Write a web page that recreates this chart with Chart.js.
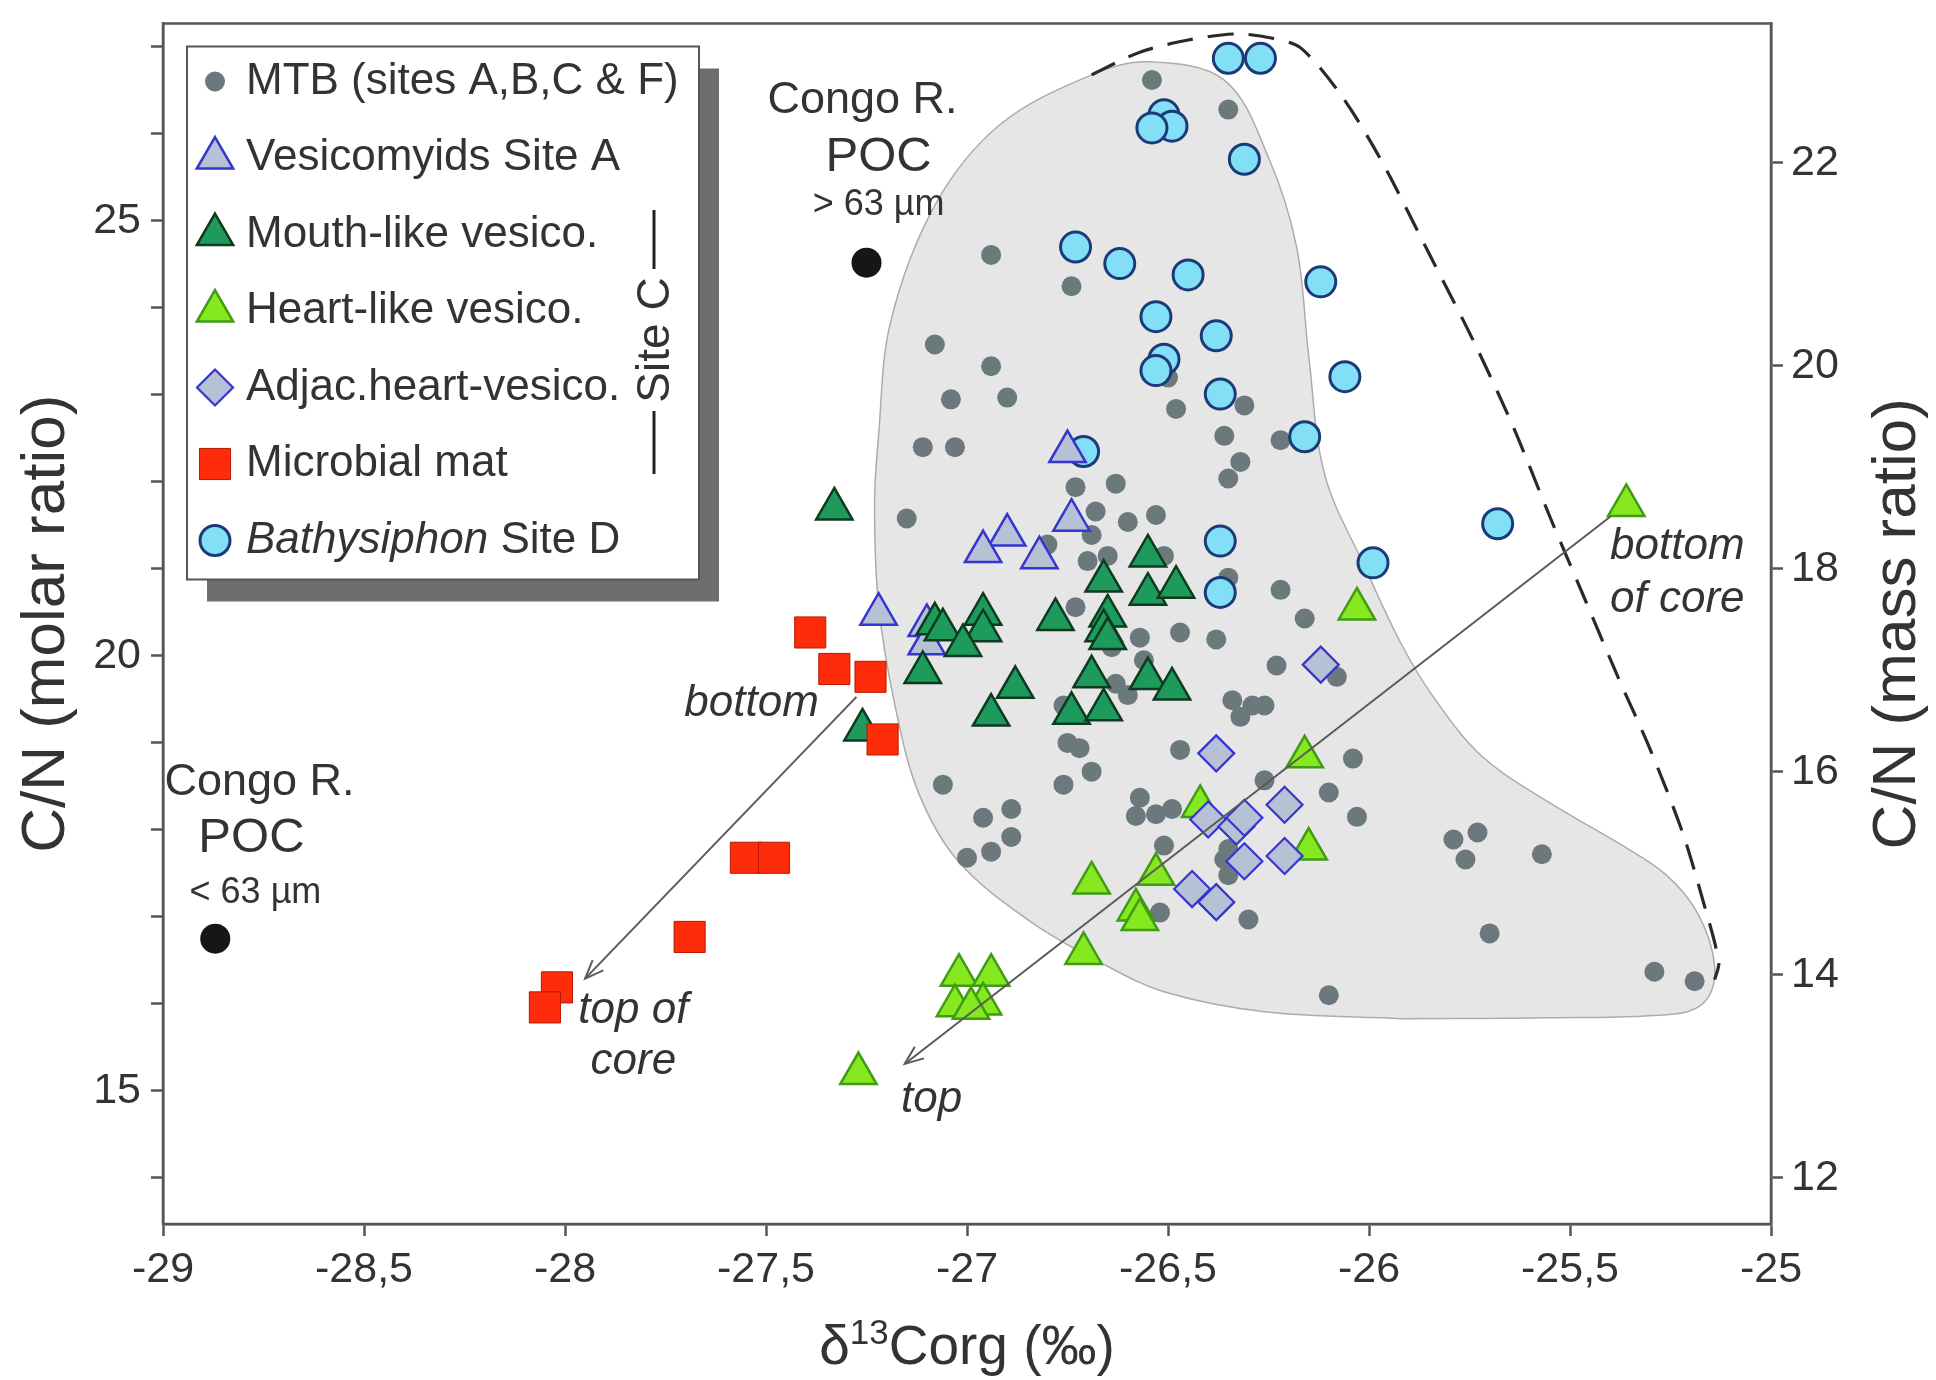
<!DOCTYPE html>
<html>
<head>
<meta charset="utf-8">
<script src="https://cdn.jsdelivr.net/npm/chart.js@4.4.1/dist/chart.umd.min.js"></script>
<style>
  html, body { margin: 0; padding: 0; background: #fff; }
  canvas { display: block; }
</style>
</head>
<body>
<canvas id="grafico-cn" width="1936" height="1380"></canvas>
<script>
const FONT = '"Liberation Sans", Arial, sans-serif';
const TXT = '#333';

// C/N molar range shown; the right axis is the same thing as mass ratio (x 12/14)
const yMin = 13.47, yMax = 27.27;
const massFactor = 12 / 14;
const xMin = -29, xMax = -25;
const labelledMolar = [15, 20, 25];

// [d13Corg, C/N molar]
const mtb = [
  [-26.54, 26.62], [-26.35, 26.28], [-26.94, 24.61], [-26.74, 24.25],
  [-27.08, 23.58], [-26.94, 23.33], [-27.04, 22.95], [-26.90, 22.97],
  [-27.11, 22.40], [-27.03, 22.40], [-26.50, 23.20], [-26.48, 22.84],
  [-26.31, 22.88], [-26.36, 22.53], [-26.32, 22.23], [-26.35, 22.04],
  [-26.22, 22.48], [-26.73, 21.94], [-26.63, 21.98], [-27.15, 21.58],
  [-26.68, 21.66], [-26.60, 21.54], [-26.53, 21.62], [-26.69, 21.39],
  [-26.70, 21.09], [-26.65, 21.15], [-26.51, 21.15], [-26.80, 21.28],
  [-26.35, 20.90], [-26.22, 20.76], [-26.16, 20.43], [-26.73, 20.56],
  [-26.57, 20.21], [-26.47, 20.27], [-26.38, 20.19], [-26.23, 19.89],
  [-26.56, 19.95], [-26.64, 20.10], [-26.63, 19.68], [-26.60, 19.55],
  [-26.76, 19.43], [-26.75, 19.00], [-26.72, 18.94], [-26.69, 18.67],
  [-26.76, 18.52], [-27.06, 18.52], [-26.34, 19.49], [-26.26, 19.43],
  [-26.32, 19.30], [-26.29, 19.43], [-26.47, 18.92], [-26.26, 18.57],
  [-26.10, 18.43], [-26.57, 18.37], [-26.58, 18.16], [-26.53, 18.18],
  [-26.49, 18.24], [-26.96, 18.14], [-26.89, 18.24], [-26.89, 17.92],
  [-26.94, 17.75], [-27.00, 17.68], [-26.51, 17.82], [-26.52, 17.05],
  [-26.36, 17.66], [-26.35, 17.78], [-26.35, 17.48], [-26.30, 16.97],
  [-26.08, 19.76], [-26.04, 18.82], [-26.03, 18.15], [-25.79, 17.89],
  [-25.73, 17.97], [-25.76, 17.66], [-25.57, 17.72], [-25.70, 16.81],
  [-25.29, 16.37], [-25.19, 16.26], [-26.10, 16.10]
];
const vesicomyidsA = [
  [-26.75, 22.35], [-26.74, 21.56], [-26.90, 21.39], [-26.96, 21.20],
  [-26.82, 21.13], [-27.22, 20.48], [-27.10, 20.35], [-27.10, 20.14]
];
const mouthLike = [
  [-27.33, 21.69], [-26.55, 21.15], [-26.66, 20.86], [-26.55, 20.71],
  [-26.48, 20.79], [-26.78, 20.42], [-26.65, 20.46], [-26.66, 20.29],
  [-26.65, 20.20], [-26.96, 20.48], [-26.96, 20.29], [-27.08, 20.37],
  [-27.06, 20.30], [-27.01, 20.12], [-27.11, 19.81], [-26.88, 19.64],
  [-26.94, 19.32], [-26.69, 19.76], [-26.55, 19.74], [-26.49, 19.62],
  [-26.74, 19.34], [-26.66, 19.38], [-27.26, 19.15]
];
const heartLike = [
  [-25.36, 21.73], [-26.03, 20.54], [-26.16, 18.84], [-26.15, 17.78],
  [-26.42, 18.27], [-26.53, 17.49], [-26.69, 17.39], [-26.58, 17.08],
  [-26.57, 16.97], [-26.71, 16.58], [-27.02, 16.33], [-26.94, 16.33],
  [-27.03, 15.98], [-26.96, 16.00], [-26.99, 15.95], [-27.27, 15.20]
];
const adjacHeart = [
  [-26.12, 19.90], [-26.38, 18.88], [-26.21, 18.29], [-26.40, 18.12],
  [-26.33, 18.04], [-26.31, 18.14], [-26.31, 17.64], [-26.21, 17.70],
  [-26.44, 17.32], [-26.38, 17.17]
];
const microbialMat = [
  [-27.39, 20.27], [-27.33, 19.85], [-27.24, 19.76], [-27.21, 19.04],
  [-27.55, 17.68], [-27.48, 17.68], [-27.69, 16.77], [-28.02, 16.19],
  [-28.05, 15.96]
];
const bathysiphon = [
  [-26.35, 26.87], [-26.27, 26.87], [-26.51, 26.22], [-26.49, 26.09],
  [-26.54, 26.07], [-26.31, 25.71], [-26.73, 24.70], [-26.62, 24.51],
  [-26.45, 24.38], [-26.12, 24.30], [-26.53, 23.90], [-26.38, 23.68],
  [-26.51, 23.41], [-26.53, 23.28], [-26.37, 23.01], [-26.06, 23.21],
  [-26.16, 22.52], [-26.71, 22.35], [-26.37, 21.32], [-26.37, 20.73],
  [-25.68, 21.52], [-25.99, 21.07]
];
const congoPOC = [[-27.25, 24.52], [-28.87, 16.75]];

// outline of the MTB field (grey) and the dashed extension
const mtbField = [
  [-25.92, 15.83], [-26.26, 15.91], [-26.51, 16.14], [-26.67, 16.48], [-26.84, 16.94],
  [-27.02, 17.63], [-27.12, 18.42], [-27.18, 19.45], [-27.22, 20.59], [-27.23, 21.74],
  [-27.22, 22.53], [-27.19, 23.84], [-27.08, 25.18], [-26.92, 26.10], [-26.69, 26.68],
  [-26.55, 26.83], [-26.36, 26.62], [-26.25, 25.73], [-26.18, 24.70], [-26.15, 23.45],
  [-26.11, 22.08], [-26.01, 21.02], [-25.92, 20.14], [-25.84, 19.53], [-25.72, 18.85],
  [-25.55, 18.31], [-25.38, 17.85], [-25.26, 17.48], [-25.18, 17.02], [-25.14, 16.43],
  [-25.16, 16.05], [-25.23, 15.89], [-25.57, 15.84], [-25.92, 15.83]
];
const dashedField = [
  [-26.69, 26.68], [-26.57, 26.94], [-26.45, 27.08], [-26.33, 27.15], [-26.24, 27.10],
  [-26.17, 26.99], [-26.07, 26.45], [-25.97, 25.70], [-25.85, 24.62], [-25.74, 23.62],
  [-25.64, 22.62], [-25.55, 21.60], [-25.46, 20.62], [-25.38, 19.75], [-25.30, 18.92],
  [-25.22, 17.97], [-25.17, 17.20], [-25.13, 16.48], [-25.14, 16.28]
];

// core trends: bottom -> top
const arrowFrom = [[-27.275, 19.53], [-25.40, 21.60]];
const arrowTo = [[-27.95, 16.29], [-27.155, 15.31]];

const S = {
  mtb:   { style: 'circle',   r: 10, fill: '#6b787c', line: '#6b787c', bw: 0 },
  vesA:  { style: 'triangle', r: 21, fill: '#b7c1d5', line: '#3535d0', bw: 2.5 },
  mouth: { style: 'triangle', r: 21, fill: '#1e9b5c', line: '#0c3b20', bw: 2.5 },
  heart: { style: 'triangle', r: 21, fill: '#86e81e', line: '#3f9c14', bw: 2.5 },
  adjac: { style: 'rectRot',  r: 18, fill: '#b7c1d5', line: '#3535d0', bw: 2.2 },
  mat:   { style: 'rect',     r: 22, fill: '#ff2c0c', line: '#b51a00', bw: 1 },
  bathy: { style: 'circle',   r: 15, fill: '#82dff6', line: '#1b3a78', bw: 3 },
  congo: { style: 'circle',   r: 15, fill: '#161616', line: '#161616', bw: 0 }
};

const legendRows = [
  ['mtb', 'MTB (sites A,B,C & F)'],
  ['vesA', 'Vesicomyids Site A'],
  ['mouth', 'Mouth-like vesico.'],
  ['heart', 'Heart-like vesico.'],
  ['adjac', 'Adjac.heart-vesico.'],
  ['mat', 'Microbial mat'],
  ['bathy', 'Bathysiphon', ' Site D']
];

const notes = [
  { text: 'Congo R.', at: [-27.26, 26.38], font: '45px ' + FONT },
  { text: 'POC', at: [-27.22, 25.73], font: '49px ' + FONT },
  { text: '> 63 µm', at: [-27.22, 25.18], font: '36px ' + FONT },
  { text: 'Congo R.', at: [-28.76, 18.54], font: '45px ' + FONT },
  { text: 'POC', at: [-28.78, 17.90], font: '49px ' + FONT },
  { text: '< 63 µm', at: [-28.77, 17.27], font: '36px ' + FONT },
  { text: 'bottom', at: [-27.536, 19.45], font: 'italic 44px ' + FONT },
  { text: 'top of', at: [-27.83, 15.92], font: 'italic 44px ' + FONT },
  { text: 'core', at: [-27.83, 15.34], font: 'italic 44px ' + FONT },
  { text: 'bottom', at: [-25.233, 21.26], font: 'italic 44px ' + FONT },
  { text: 'of core', at: [-25.233, 20.65], font: 'italic 44px ' + FONT },
  { text: 'top', at: [-27.088, 14.90], font: 'italic 44px ' + FONT }
];

const toPts = arr => arr.map(([x, y]) => ({ x, y }));

function serie(key, label, arr) {
  const s = S[key];
  return {
    label, data: toPts(arr), showLine: false,
    pointStyle: s.style, pointRadius: s.r, pointHoverRadius: s.r,
    pointBackgroundColor: s.fill, pointBorderColor: s.line, pointBorderWidth: s.bw,
    backgroundColor: s.fill, borderColor: s.line
  };
}

function drawArrow(ctx, x1, y1, x2, y2) {
  ctx.beginPath();
  ctx.moveTo(x1, y1);
  ctx.lineTo(x2, y2);
  ctx.stroke();
  const a = Math.atan2(y2 - y1, x2 - x1), L = 20, sp = 0.38;
  ctx.beginPath();
  ctx.moveTo(x2 - L * Math.cos(a - sp), y2 - L * Math.sin(a - sp));
  ctx.lineTo(x2, y2);
  ctx.lineTo(x2 - L * Math.cos(a + sp), y2 - L * Math.sin(a + sp));
  ctx.stroke();
}

function drawMarker(ctx, key, x, y) {
  const s = S[key];
  ctx.fillStyle = s.fill;
  ctx.strokeStyle = s.line;
  ctx.lineWidth = s.bw;
  Chart.helpers.drawPoint(ctx, { pointStyle: s.style, radius: s.r, rotation: 0, borderWidth: s.bw }, x, y);
}

function drawLegend(ctx, a) {
  const left = a.left + 24, top = a.top + 23, w = 512, h = 533;
  ctx.fillStyle = '#6e6e6e';
  ctx.fillRect(left + 20, top + 22, w, h);
  ctx.fillStyle = '#fff';
  ctx.fillRect(left, top, w, h);
  ctx.strokeStyle = '#555';
  ctx.lineWidth = 2;
  ctx.strokeRect(left, top, w, h);

  ctx.textAlign = 'left';
  ctx.textBaseline = 'middle';
  legendRows.forEach((row, i) => {
    const yy = top + 35 + i * 76.5;
    drawMarker(ctx, row[0], left + 28, yy);
    ctx.fillStyle = TXT;
    if (row.length === 3) {
      ctx.font = 'italic 44px ' + FONT;
      ctx.fillText(row[1], left + 59, yy);
      const wi = ctx.measureText(row[1]).width;
      ctx.font = '44px ' + FONT;
      ctx.fillText(row[2], left + 59 + wi, yy);
    } else {
      ctx.font = '44px ' + FONT;
      ctx.fillText(row[1], left + 59, yy);
    }
  });

  // bracket for the Site C groups
  const bx = left + 467;
  ctx.strokeStyle = '#222';
  ctx.lineWidth = 3;
  ctx.beginPath();
  ctx.moveTo(bx, 210); ctx.lineTo(bx, 269);
  ctx.moveTo(bx, 411); ctx.lineTo(bx, 474);
  ctx.stroke();
  ctx.save();
  ctx.translate(bx, 340);
  ctx.rotate(-Math.PI / 2);
  ctx.textAlign = 'center';
  ctx.fillStyle = TXT;
  ctx.font = '46px ' + FONT;
  ctx.fillText('Site C', 0, 2);
  ctx.restore();
}

function drawTitles(ctx, chart) {
  const a = chart.chartArea;
  const midY = (a.top + a.bottom) / 2;
  ctx.fillStyle = TXT;
  ctx.textAlign = 'center';
  ctx.textBaseline = 'middle';
  ctx.font = '62px ' + FONT;
  [[47, 'C/N (molar ratio)'], [1898, 'C/N (mass ratio)']].forEach(([tx, t]) => {
    ctx.save();
    ctx.translate(tx, midY);
    ctx.rotate(-Math.PI / 2);
    ctx.fillText(t, 0, 0);
    ctx.restore();
  });

  // δ13Corg (‰) with superscript
  const big = '55px ' + FONT, small = '35px ' + FONT;
  ctx.font = big; const w1 = ctx.measureText('δ').width;
  ctx.font = small; const w2 = ctx.measureText('13').width;
  ctx.font = big; const w3 = ctx.measureText('Corg (‰)').width;
  let cx = (a.left + a.right) / 2 - (w1 + w2 + w3) / 2;
  const by = 1364;
  ctx.textAlign = 'left';
  ctx.textBaseline = 'alphabetic';
  ctx.font = big; ctx.fillText('δ', cx, by); cx += w1;
  ctx.font = small; ctx.fillText('13', cx, by - 20); cx += w2;
  ctx.font = big; ctx.fillText('Corg (‰)', cx, by);
}

const decor = {
  id: 'decor',
  beforeDraw(chart) {
    const c = chart.ctx;
    c.save();
    c.fillStyle = '#fff';
    c.fillRect(0, 0, chart.width, chart.height);
    c.restore();
  },
  afterDatasetsDraw(chart) {
    const { ctx, chartArea: a, scales: { x, y } } = chart;
    const px = v => x.getPixelForValue(v), py = v => y.getPixelForValue(v);
    ctx.save();
    ctx.strokeStyle = '#5a5a5a';
    ctx.lineWidth = 2;
    arrowFrom.forEach((f, i) => {
      drawArrow(ctx, px(f[0]), py(f[1]), px(arrowTo[i][0]), py(arrowTo[i][1]));
    });

    ctx.fillStyle = TXT;
    ctx.textAlign = 'center';
    ctx.textBaseline = 'middle';
    notes.forEach(n => {
      ctx.font = n.font;
      ctx.fillText(n.text, px(n.at[0]), py(n.at[1]));
    });

    ctx.strokeStyle = '#555';
    ctx.lineWidth = 2.5;
    ctx.strokeRect(a.left, a.top, a.right - a.left, a.bottom - a.top);

    drawLegend(ctx, a);
    drawTitles(ctx, chart);
    ctx.restore();
  }
};

function fixSize(prop, val) {
  return function (scale) {
    scale[prop] = val;
    scale.paddingTop = 0; scale.paddingBottom = 0;
    scale.paddingLeft = 0; scale.paddingRight = 0;
  };
}

const tickFont = { family: FONT, size: 43 };
const gridOpts = { drawOnChartArea: false, drawTicks: true, tickLength: 12, tickColor: '#555', tickWidth: 2.5 };
const borderOpts = { display: true, color: '#555', width: 2.5 };

new Chart(document.getElementById('grafico-cn').getContext('2d'), {
  type: 'scatter',
  data: {
    datasets: [
      serie('mat', 'Microbial mat', microbialMat),
      serie('mouth', 'Mouth-like vesico.', mouthLike),
      serie('vesA', 'Vesicomyids Site A', vesicomyidsA),
      serie('adjac', 'Adjac.heart-vesico.', adjacHeart),
      serie('heart', 'Heart-like vesico.', heartLike),
      serie('bathy', 'Bathysiphon Site D', bathysiphon),
      serie('mtb', 'MTB (sites A,B,C & F)', mtb),
      serie('congo', 'Congo R. POC', congoPOC),
      {
        label: 'dashed', data: toPts(dashedField), showLine: true, fill: false,
        borderColor: '#2a2a2a', borderWidth: 3.2, borderDash: [26, 15],
        pointRadius: 0, pointHoverRadius: 0, tension: 0.3
      },
      {
        label: 'field', data: toPts(mtbField), showLine: true, fill: 'shape',
        backgroundColor: '#e6e6e6', borderColor: '#acacac', borderWidth: 1.5,
        pointRadius: 0, pointHoverRadius: 0, tension: 0.35
      }
    ]
  },
  options: {
    responsive: false,
    animation: false,
    devicePixelRatio: 1,
    events: [],
    layout: { padding: { top: 15, left: 0, right: 0, bottom: 0 } },
    plugins: { legend: { display: false }, tooltip: { enabled: false } },
    scales: {
      x: {
        type: 'linear', position: 'bottom', min: xMin, max: xMax,
        ticks: {
          stepSize: 0.5, includeBounds: false, autoSkip: false, maxRotation: 0,
          color: TXT, font: tickFont, padding: 8,
          callback: v => String(v).replace('.', ',')
        },
        grid: gridOpts, border: borderOpts,
        afterFit: fixSize('height', 156)
      },
      y: {
        type: 'linear', position: 'left', min: yMin, max: yMax,
        ticks: {
          stepSize: 1, includeBounds: false, autoSkip: false,
          color: TXT, font: tickFont, padding: 10,
          callback: v => labelledMolar.includes(v) ? String(v) : ''
        },
        grid: gridOpts, border: borderOpts,
        afterFit: fixSize('width', 163)
      },
      y2: {
        type: 'linear', position: 'right', min: yMin * massFactor, max: yMax * massFactor,
        ticks: {
          stepSize: 2, includeBounds: false, autoSkip: false,
          color: TXT, font: tickFont, padding: 8
        },
        grid: gridOpts, border: borderOpts,
        afterFit: fixSize('width', 165)
      }
    }
  },
  plugins: [decor]
});
</script>
</body>
</html>
